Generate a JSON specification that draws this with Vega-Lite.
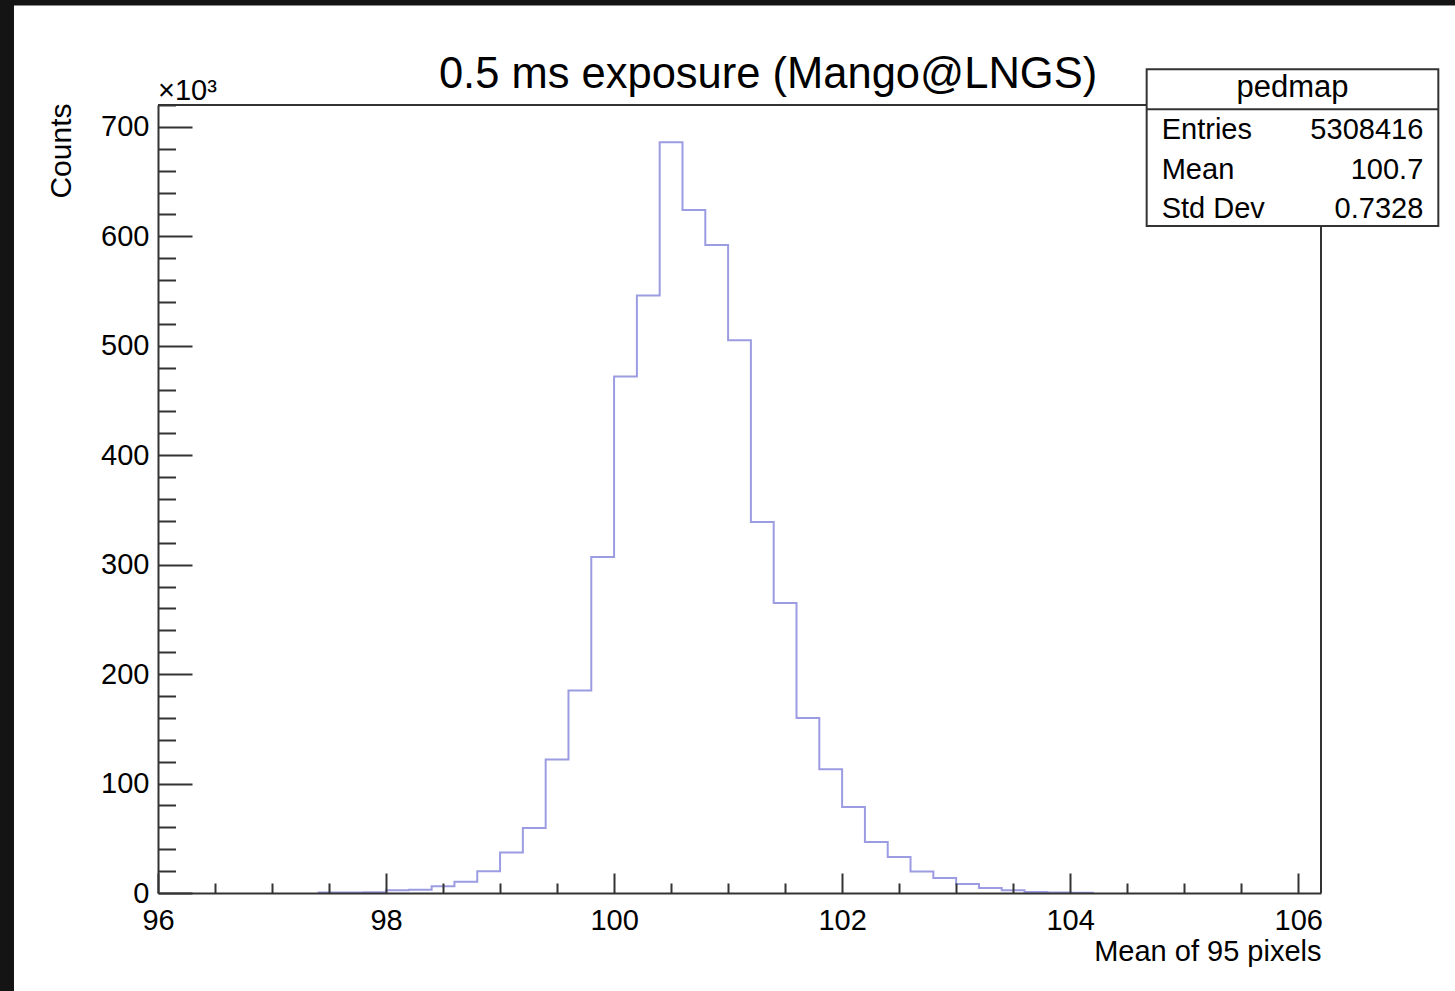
{
  "$schema": "https://vega.github.io/schema/vega-lite/v6.json",
  "width": 1163,
  "height": 788,
  "autosize": {"type": "none"},
  "padding": {"left": 158, "top": 105, "right": 134, "bottom": 98},
  "background": "#141414",
  "config": {"view": {"stroke": null}, "font": "Liberation Sans", "text": {"font": "Liberation Sans"}},
  "datasets": {
    "hist": [
      {"x": 97.4, "counts": 500}, {"x": 97.6, "counts": 500}, {"x": 97.8, "counts": 600},
      {"x": 98.0, "counts": 2600}, {"x": 98.2, "counts": 2900}, {"x": 98.4, "counts": 6200},
      {"x": 98.6, "counts": 10300}, {"x": 98.8, "counts": 19800}, {"x": 99.0, "counts": 37000},
      {"x": 99.2, "counts": 59500}, {"x": 99.4, "counts": 122000}, {"x": 99.6, "counts": 185000},
      {"x": 99.8, "counts": 307000}, {"x": 100.0, "counts": 472000}, {"x": 100.2, "counts": 546000},
      {"x": 100.4, "counts": 686000}, {"x": 100.6, "counts": 624000}, {"x": 100.8, "counts": 592000},
      {"x": 101.0, "counts": 505000}, {"x": 101.2, "counts": 339000}, {"x": 101.4, "counts": 265000},
      {"x": 101.6, "counts": 160000}, {"x": 101.8, "counts": 113000}, {"x": 102.0, "counts": 78500},
      {"x": 102.2, "counts": 46500}, {"x": 102.4, "counts": 33000}, {"x": 102.6, "counts": 19700},
      {"x": 102.8, "counts": 13700}, {"x": 103.0, "counts": 8200}, {"x": 103.2, "counts": 4600},
      {"x": 103.4, "counts": 2400}, {"x": 103.6, "counts": 800}, {"x": 103.8, "counts": 400},
      {"x": 104.0, "counts": 300}, {"x": 104.2, "counts": 0}
    ]
  },
  "resolve": {"axis": {"x": "independent", "y": "independent"}},
  "layer": [
    {
      "data": {"values": [{}]},
      "mark": {"type": "rect", "fill": "#ffffff"},
      "encoding": {
        "x": {"datum": 94.737, "type": "quantitative", "scale": {"domain": [96, 106.2], "nice": false, "zero": false}, "axis": null},
        "x2": {"datum": 108},
        "y": {"datum": 810900, "type": "quantitative", "scale": {"domain": [0, 720000], "nice": false}, "axis": null},
        "y2": {"datum": -120000}
      }
    },
    {
      "data": {"values": [{}]},
      "mark": {"type": "rule", "stroke": "#333333", "strokeWidth": 2},
      "encoding": {
        "x": {"datum": 96, "type": "quantitative", "scale": {"domain": [96, 106.2], "nice": false, "zero": false}, "axis": null},
        "x2": {"datum": 106.2},
        "y": {"datum": 720000, "type": "quantitative", "scale": {"domain": [0, 720000], "nice": false}, "axis": null}
      }
    },
    {
      "data": {"values": [{}]},
      "mark": {"type": "rule", "stroke": "#333333", "strokeWidth": 2},
      "encoding": {
        "x": {"datum": 106.2, "type": "quantitative", "scale": {"domain": [96, 106.2], "nice": false, "zero": false}, "axis": null},
        "y": {"datum": 0, "type": "quantitative", "scale": {"domain": [0, 720000], "nice": false}, "axis": null},
        "y2": {"datum": 720000}
      }
    },
    {
      "data": {"name": "hist"},
      "mark": {"type": "line", "interpolate": "step-after", "stroke": "#9c9ce2", "strokeWidth": 2},
      "encoding": {
        "x": {
          "field": "x", "type": "quantitative",
          "scale": {"domain": [96, 106.2], "nice": false, "zero": false},
          "axis": {
            "orient": "bottom", "values": [96, 98, 100, 102, 104, 106],
            "ticks": false, "tickSize": 0, "grid": false,
            "domain": true, "domainColor": "#333333", "domainWidth": 2,
            "labelFont": "Liberation Sans", "labelFontSize": 29, "labelColor": "#000000",
            "labelBaseline": "alphabetic", "labelPadding": 36, "labelFlush": false, "labelOverlap": false,
            "title": "Mean of 95 pixels", "titleFont": "Liberation Sans", "titleFontSize": 29,
            "titleFontWeight": "normal", "titleColor": "#000000", "titleAlign": "right",
            "titleAnchor": "end", "titleBaseline": "alphabetic", "titleX": 1163, "titleY": 67,
            "zindex": 1
          }
        },
        "y": {
          "field": "counts", "type": "quantitative",
          "scale": {"domain": [0, 720000], "nice": false},
          "axis": {
            "orient": "left", "values": [0, 100000, 200000, 300000, 400000, 500000, 600000, 700000],
            "labelExpr": "format(datum.value / 1000, 'd')",
            "ticks": false, "tickSize": 0, "grid": false,
            "domain": true, "domainColor": "#333333", "domainWidth": 2,
            "labelFont": "Liberation Sans", "labelFontSize": 29, "labelColor": "#000000",
            "labelBaseline": "middle", "labelAlign": "right", "labelPadding": 9, "labelFlush": false, "labelOverlap": false,
            "title": "Counts", "titleFont": "Liberation Sans", "titleFontSize": 30,
            "titleFontWeight": "normal", "titleColor": "#000000", "titleAngle": 270,
            "titleAlign": "right", "titleBaseline": "alphabetic", "titleX": -88, "titleY": -2,
            "zindex": 1
          }
        }
      }
    },
    {
      "data": {"name": "hist"},
      "mark": {"type": "point", "opacity": 0},
      "encoding": {
        "x": {
          "field": "x", "type": "quantitative",
          "scale": {"domain": [96, 106.2], "nice": false, "zero": false},
          "axis": {
            "orient": "top", "offset": -788, "values": [96, 98, 100, 102, 104, 106],
            "tickSize": 20, "tickWidth": 2, "tickColor": "#333333", "labels": false,
            "domain": false, "grid": false, "title": null, "zindex": 1
          }
        },
        "y": {
          "field": "counts", "type": "quantitative",
          "scale": {"domain": [0, 720000], "nice": false},
          "axis": {
            "orient": "right", "offset": -1163, "values": [0, 100000, 200000, 300000, 400000, 500000, 600000, 700000],
            "tickSize": 34, "tickWidth": 2, "tickColor": "#333333", "labels": false,
            "domain": false, "grid": false, "title": null, "zindex": 1
          }
        }
      }
    },
    {
      "data": {"name": "hist"},
      "mark": {"type": "point", "opacity": 0},
      "encoding": {
        "x": {
          "field": "x", "type": "quantitative",
          "scale": {"domain": [96, 106.2], "nice": false, "zero": false},
          "axis": {
            "orient": "top", "offset": -788,
            "values": [96.5, 97, 97.5, 98.5, 99, 99.5, 100.5, 101, 101.5, 102.5, 103, 103.5, 104.5, 105, 105.5],
            "tickSize": 10, "tickWidth": 2, "tickColor": "#333333", "labels": false,
            "domain": false, "grid": false, "title": null, "zindex": 1
          }
        },
        "y": {
          "field": "counts", "type": "quantitative",
          "scale": {"domain": [0, 720000], "nice": false},
          "axis": {
            "orient": "right", "offset": -1163,
            "values": [20000, 40000, 60000, 80000, 120000, 140000, 160000, 180000, 220000, 240000, 260000, 280000, 320000, 340000, 360000, 380000, 420000, 440000, 460000, 480000, 520000, 540000, 560000, 580000, 620000, 640000, 660000, 680000, 720000],
            "tickSize": 17.5, "tickWidth": 2, "tickColor": "#333333", "labels": false,
            "domain": false, "grid": false, "title": null, "zindex": 1
          }
        }
      }
    },
    {
      "data": {"values": [{}]},
      "mark": {"type": "rect", "fill": "#ffffff", "stroke": "#333333", "strokeWidth": 2},
      "encoding": {
        "x": {"datum": 104.671, "type": "quantitative", "scale": {"domain": [96, 106.2], "nice": false, "zero": false}, "axis": null},
        "x2": {"datum": 107.229},
        "y": {"datum": 752600, "type": "quantitative", "scale": {"domain": [0, 720000], "nice": false}, "axis": null},
        "y2": {"datum": 609500}
      }
    },
    {
      "data": {"values": [{}]},
      "mark": {"type": "rule", "stroke": "#333333", "strokeWidth": 2},
      "encoding": {
        "x": {"datum": 104.671, "type": "quantitative", "scale": {"domain": [96, 106.2], "nice": false, "zero": false}, "axis": null},
        "x2": {"datum": 107.229},
        "y": {"datum": 716100, "type": "quantitative", "scale": {"domain": [0, 720000], "nice": false}, "axis": null}
      }
    },
    {
      "data": {"values": [{}]},
      "mark": {"type": "text", "text": "pedmap", "fontSize": 31, "align": "center", "baseline": "alphabetic", "color": "#000000"},
      "encoding": {
        "x": {"datum": 105.95, "type": "quantitative", "scale": {"domain": [96, 106.2], "nice": false, "zero": false}, "axis": null},
        "y": {"datum": 727600, "type": "quantitative", "scale": {"domain": [0, 720000], "nice": false}, "axis": null}
      }
    },
    {
      "data": {"values": [{}]},
      "mark": {"type": "text", "text": "Entries", "fontSize": 29, "align": "left", "baseline": "alphabetic", "color": "#000000"},
      "encoding": {
        "x": {"datum": 104.803, "type": "quantitative", "scale": {"domain": [96, 106.2], "nice": false, "zero": false}, "axis": null},
        "y": {"datum": 688700, "type": "quantitative", "scale": {"domain": [0, 720000], "nice": false}, "axis": null}
      }
    },
    {
      "data": {"values": [{}]},
      "mark": {"type": "text", "text": "5308416", "fontSize": 29, "align": "right", "baseline": "alphabetic", "color": "#000000"},
      "encoding": {
        "x": {"datum": 107.097, "type": "quantitative", "scale": {"domain": [96, 106.2], "nice": false, "zero": false}, "axis": null},
        "y": {"datum": 688700, "type": "quantitative", "scale": {"domain": [0, 720000], "nice": false}, "axis": null}
      }
    },
    {
      "data": {"values": [{}]},
      "mark": {"type": "text", "text": "Mean", "fontSize": 29, "align": "left", "baseline": "alphabetic", "color": "#000000"},
      "encoding": {
        "x": {"datum": 104.803, "type": "quantitative", "scale": {"domain": [96, 106.2], "nice": false, "zero": false}, "axis": null},
        "y": {"datum": 652100, "type": "quantitative", "scale": {"domain": [0, 720000], "nice": false}, "axis": null}
      }
    },
    {
      "data": {"values": [{}]},
      "mark": {"type": "text", "text": "100.7", "fontSize": 29, "align": "right", "baseline": "alphabetic", "color": "#000000"},
      "encoding": {
        "x": {"datum": 107.097, "type": "quantitative", "scale": {"domain": [96, 106.2], "nice": false, "zero": false}, "axis": null},
        "y": {"datum": 652100, "type": "quantitative", "scale": {"domain": [0, 720000], "nice": false}, "axis": null}
      }
    },
    {
      "data": {"values": [{}]},
      "mark": {"type": "text", "text": "Std Dev", "fontSize": 29, "align": "left", "baseline": "alphabetic", "color": "#000000"},
      "encoding": {
        "x": {"datum": 104.803, "type": "quantitative", "scale": {"domain": [96, 106.2], "nice": false, "zero": false}, "axis": null},
        "y": {"datum": 616500, "type": "quantitative", "scale": {"domain": [0, 720000], "nice": false}, "axis": null}
      }
    },
    {
      "data": {"values": [{}]},
      "mark": {"type": "text", "text": "0.7328", "fontSize": 29, "align": "right", "baseline": "alphabetic", "color": "#000000"},
      "encoding": {
        "x": {"datum": 107.097, "type": "quantitative", "scale": {"domain": [96, 106.2], "nice": false, "zero": false}, "axis": null},
        "y": {"datum": 616500, "type": "quantitative", "scale": {"domain": [0, 720000], "nice": false}, "axis": null}
      }
    },
    {
      "data": {"values": [{}]},
      "mark": {"type": "text", "text": "0.5 ms exposure (Mango@LNGS)", "fontSize": 43.5, "align": "center", "baseline": "alphabetic", "color": "#000000"},
      "encoding": {
        "x": {"datum": 101.35, "type": "quantitative", "scale": {"domain": [96, 106.2], "nice": false, "zero": false}, "axis": null},
        "y": {"datum": 735100, "type": "quantitative", "scale": {"domain": [0, 720000], "nice": false}, "axis": null}
      }
    },
    {
      "data": {"values": [{}]},
      "mark": {"type": "text", "text": "×10³", "fontSize": 29, "align": "left", "baseline": "alphabetic", "color": "#000000"},
      "encoding": {
        "x": {"datum": 96, "type": "quantitative", "scale": {"domain": [96, 106.2], "nice": false, "zero": false}, "axis": null},
        "y": {"datum": 724500, "type": "quantitative", "scale": {"domain": [0, 720000], "nice": false}, "axis": null}
      }
    }
  ]
}
